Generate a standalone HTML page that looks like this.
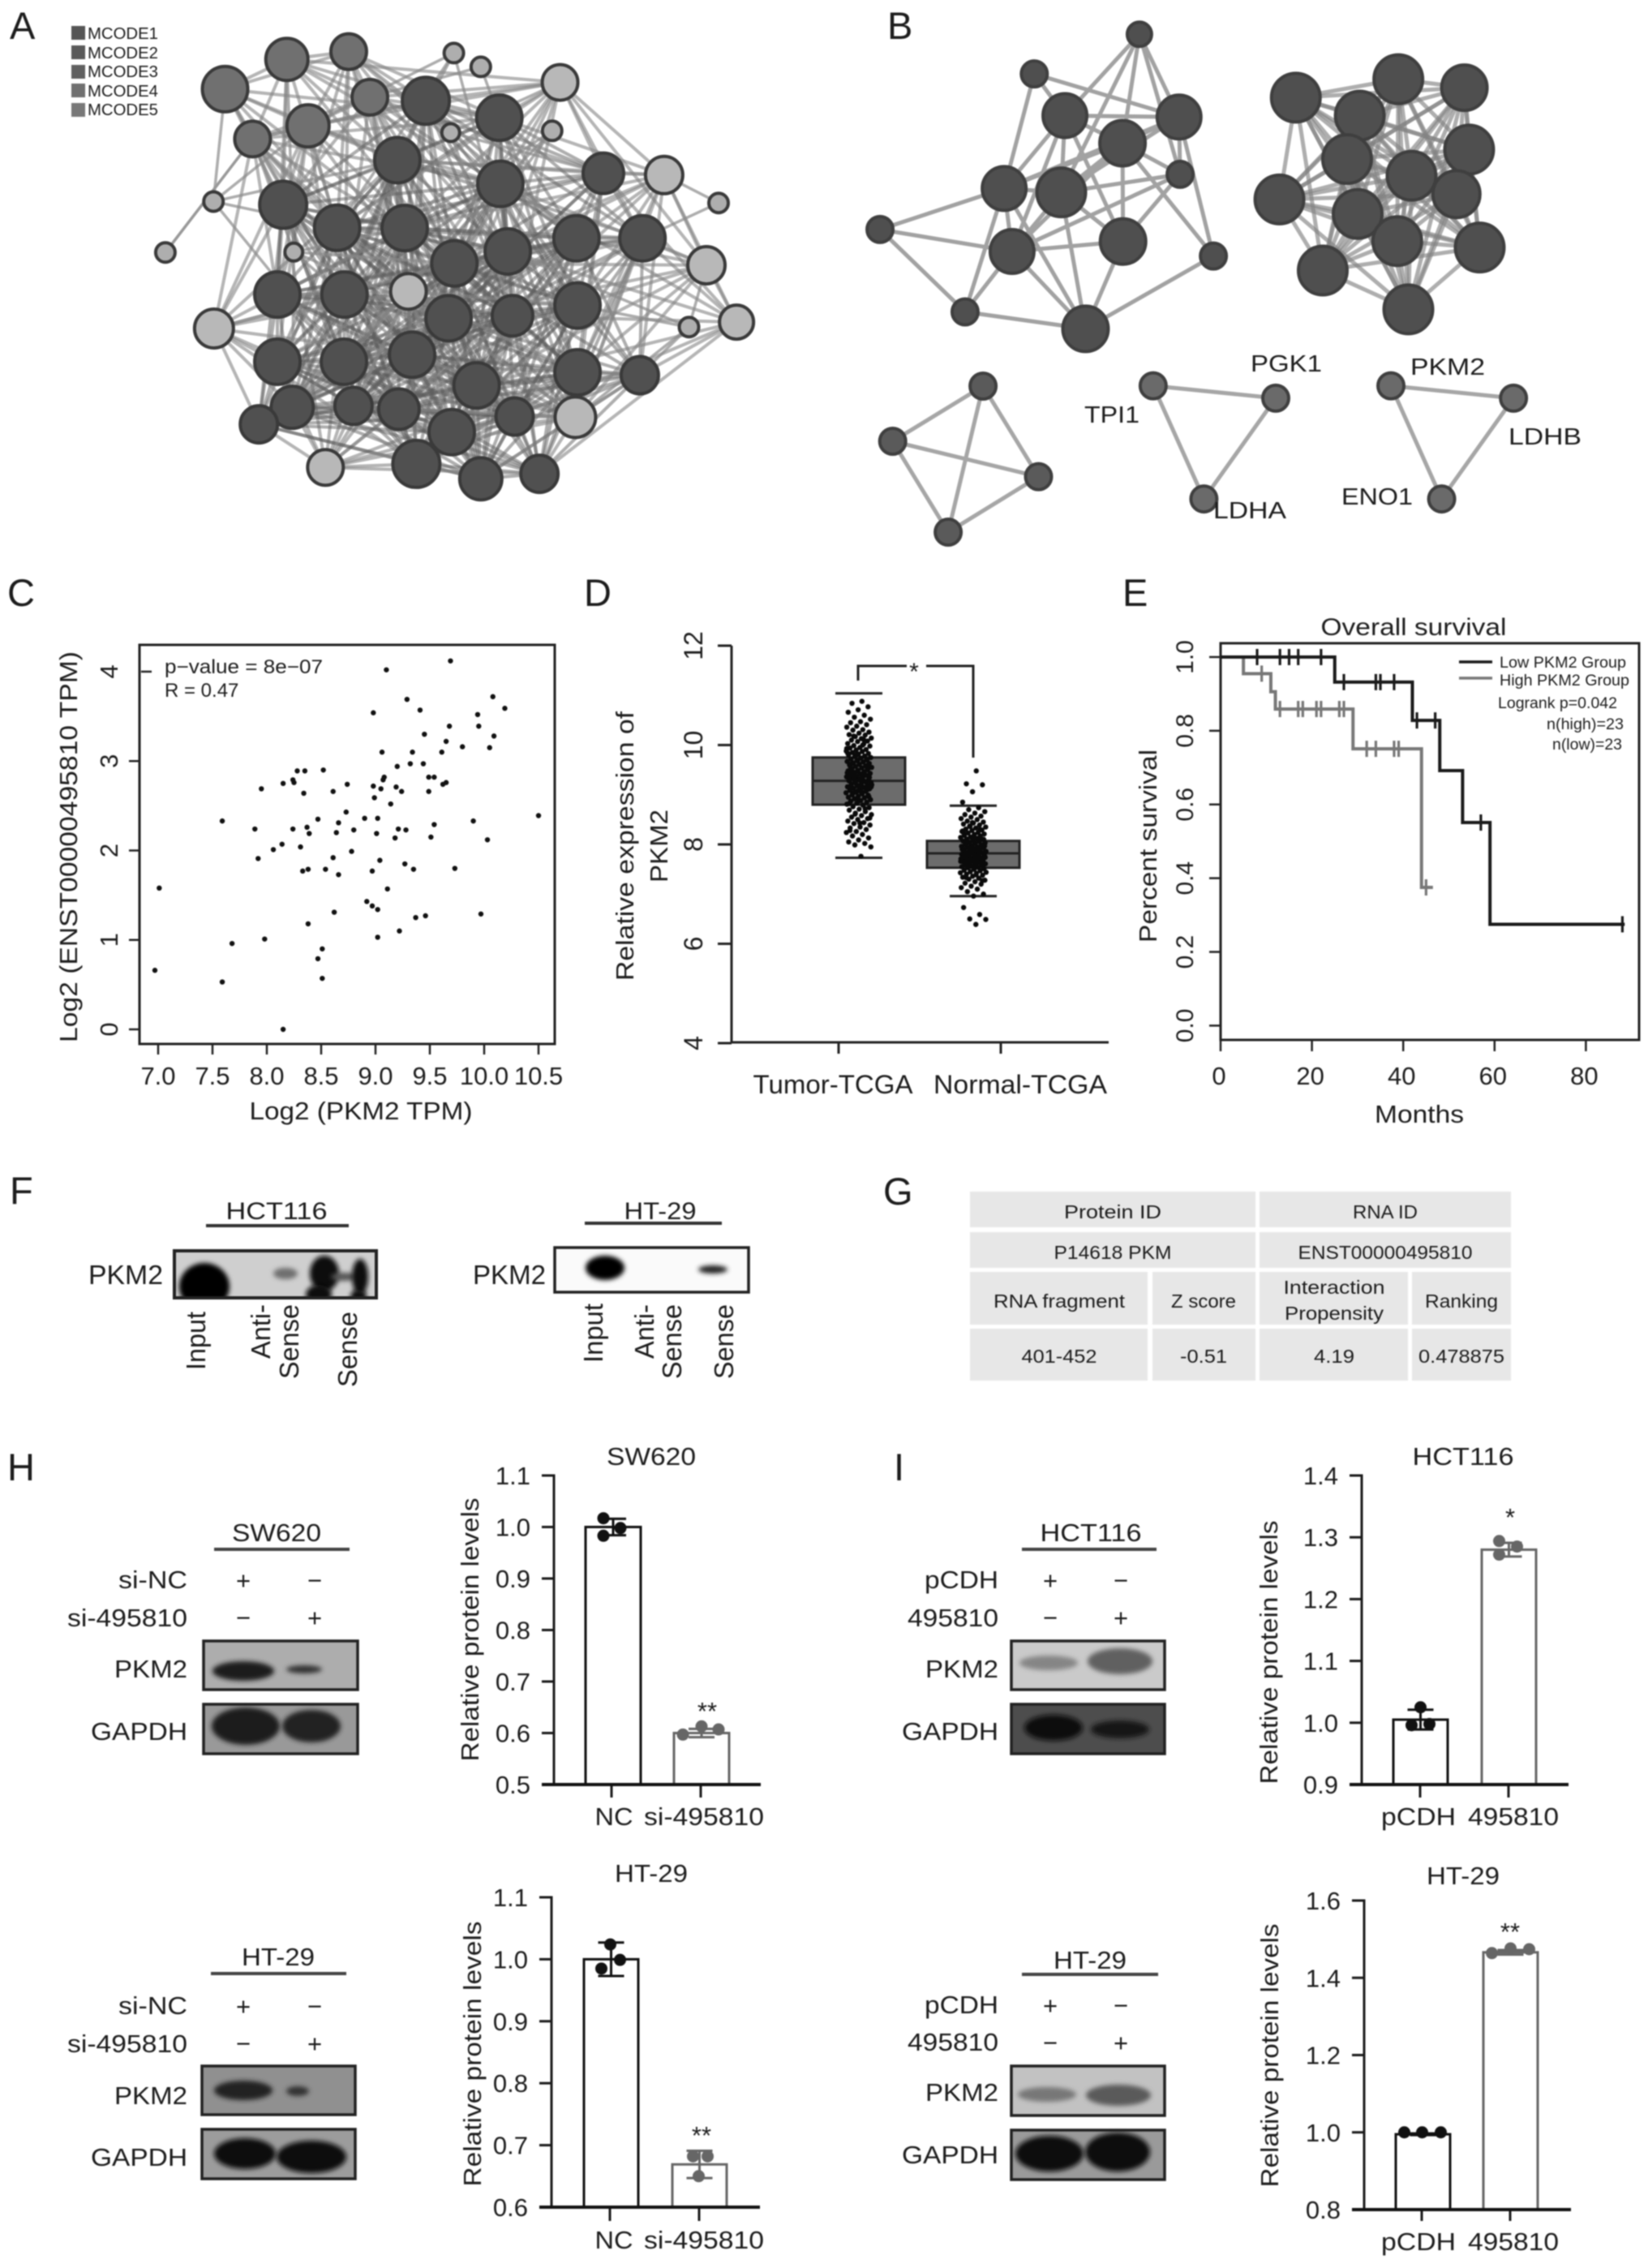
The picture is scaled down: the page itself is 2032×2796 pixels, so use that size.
<!DOCTYPE html>
<html lang="en">
<head>
<meta charset="utf-8">
<title>PKM2 multi-panel figure</title>
<style>
html,body{margin:0;padding:0;background:#fff;width:2032px;height:2796px;overflow:hidden}
svg{display:block;filter:blur(0.9px)}
text{font-family:"Liberation Sans",sans-serif;fill:#1c1c1c}
</style>
</head>
<body>
<svg id="figure" xmlns="http://www.w3.org/2000/svg" width="2032" height="2796" viewBox="0 0 2032 2796">
<defs>
<filter id="b3" x="-40%" y="-60%" width="180%" height="220%"><feGaussianBlur stdDeviation="3"/></filter>
<filter id="b5" x="-40%" y="-60%" width="180%" height="220%"><feGaussianBlur stdDeviation="5"/></filter>
<clipPath id="clip-f1"><rect x="215" y="1542" width="249" height="58"/></clipPath>
<clipPath id="clip-f2"><rect x="684" y="1538" width="239" height="55"/></clipPath>
</defs>
<rect width="2032" height="2796" fill="#fff"/>

<!-- panel letters -->
<g font-size="47">
<text x="12" y="48">A</text>
<text x="1094" y="48">B</text>
<text x="9" y="747">C</text>
<text x="720" y="747">D</text>
<text x="1384" y="747">E</text>
<text x="12" y="1484">F</text>
<text x="1089" y="1485">G</text>
<text x="9" y="1825">H</text>
<text x="1102" y="1825">I</text>
</g>

<!-- A legend -->
<g font-size="20">
<rect x="88" y="32" width="17" height="17" fill="#555"/>
<text x="108" y="48" fill="#555" textLength="87" lengthAdjust="spacingAndGlyphs">MCODE1</text>
<rect x="88" y="56" width="17" height="17" fill="#5a5a5a"/>
<text x="108" y="72" fill="#555" textLength="87" lengthAdjust="spacingAndGlyphs">MCODE2</text>
<rect x="88" y="80" width="17" height="17" fill="#606060"/>
<text x="108" y="95" fill="#555" textLength="87" lengthAdjust="spacingAndGlyphs">MCODE3</text>
<rect x="88" y="103" width="17" height="17" fill="#707070"/>
<text x="108" y="119" fill="#555" textLength="87" lengthAdjust="spacingAndGlyphs">MCODE4</text>
<rect x="88" y="127" width="17" height="17" fill="#787878"/>
<text x="108" y="142" fill="#555" textLength="87" lengthAdjust="spacingAndGlyphs">MCODE5</text>
</g>
<g id="network-a"></g>
<g id="network-b"></g>

<!-- B gene labels -->
<g font-size="29" fill="#333">
<text x="1586" y="458" text-anchor="middle" textLength="88" lengthAdjust="spacingAndGlyphs">PGK1</text>
<text x="1371" y="521" text-anchor="middle" textLength="68" lengthAdjust="spacingAndGlyphs">TPI1</text>
<text x="1541" y="639" text-anchor="middle" textLength="90" lengthAdjust="spacingAndGlyphs">LDHA</text>
<text x="1785" y="462" text-anchor="middle" textLength="92" lengthAdjust="spacingAndGlyphs">PKM2</text>
<text x="1905" y="548" text-anchor="middle" textLength="90" lengthAdjust="spacingAndGlyphs">LDHB</text>
<text x="1698" y="622" text-anchor="middle" textLength="88" lengthAdjust="spacingAndGlyphs">ENO1</text>
</g>

<!-- C scatter -->
<g id="chart-c">
<rect x="172" y="795" width="512" height="492" fill="none" stroke="#222" stroke-width="3"/>
<text x="445" y="1380" font-size="31" text-anchor="middle" textLength="275" lengthAdjust="spacingAndGlyphs">Log2 (PKM2 TPM)</text>
<text transform="translate(95,1044) rotate(-90)" font-size="31" text-anchor="middle" textLength="482" lengthAdjust="spacingAndGlyphs">Log2 (ENST00000495810 TPM)</text>
<text x="203" y="830" font-size="24" fill="#444" textLength="195" lengthAdjust="spacingAndGlyphs">p−value = 8e−07</text>
<text x="203" y="859" font-size="24" fill="#444">R = 0.47</text>
</g>

<!-- D boxplot -->
<g id="chart-d">
<text transform="translate(781,1043) rotate(-90)" font-size="31" text-anchor="middle" textLength="332" lengthAdjust="spacingAndGlyphs">Relative expression of</text>
<text transform="translate(823,1043) rotate(-90)" font-size="31" text-anchor="middle" textLength="90" lengthAdjust="spacingAndGlyphs">PKM2</text>
<text x="1127" y="838" font-size="30" text-anchor="middle">*</text>
</g>

<!-- E survival -->
<g id="chart-e">
<rect x="1505" y="793" width="516" height="489" fill="none" stroke="#222" stroke-width="3"/>
<text x="1743" y="783" font-size="30" text-anchor="middle" textLength="229" lengthAdjust="spacingAndGlyphs">Overall survival</text>
<text x="1750" y="1384" font-size="31" text-anchor="middle" textLength="110" lengthAdjust="spacingAndGlyphs">Months</text>
<text transform="translate(1426,1043) rotate(-90)" font-size="31" text-anchor="middle" textLength="238" lengthAdjust="spacingAndGlyphs">Percent survival</text>
<line x1="1799" y1="816" x2="1840" y2="816" stroke="#1a1a1a" stroke-width="3.5"/>
<line x1="1799" y1="836" x2="1840" y2="836" stroke="#777" stroke-width="3.5"/>
<g font-size="19" fill="#444">
<text x="1849" y="823" textLength="156" lengthAdjust="spacingAndGlyphs">Low PKM2 Group</text>
<text x="1849" y="845" textLength="160" lengthAdjust="spacingAndGlyphs">High PKM2 Group</text>
<text x="1847" y="873" textLength="147" lengthAdjust="spacingAndGlyphs">Logrank p=0.042</text>
<text x="1907" y="899" textLength="95" lengthAdjust="spacingAndGlyphs">n(high)=23</text>
<text x="1914" y="924" textLength="86" lengthAdjust="spacingAndGlyphs">n(low)=23</text>
</g>
</g>

<!-- F blots -->
<g font-size="33">
<text x="341" y="1503" font-size="30" text-anchor="middle" textLength="125" lengthAdjust="spacingAndGlyphs">HCT116</text>
<line x1="254" y1="1511" x2="430" y2="1511" stroke="#333" stroke-width="4"/>
<text x="109" y="1583" textLength="92" lengthAdjust="spacingAndGlyphs">PKM2</text>
<g>
<g clip-path="url(#clip-f1)">
<rect x="215" y="1542" width="249" height="58" fill="#cfcfcf"/>
<ellipse cx="252" cy="1586" rx="31" ry="29" fill="#000" filter="url(#b3)"/>
<ellipse cx="352" cy="1570" rx="15" ry="7" fill="#6e6e6e" filter="url(#b3)"/>
<ellipse cx="400" cy="1570" rx="18" ry="22" fill="#0a0a0a" filter="url(#b3)"/>
<ellipse cx="393" cy="1596" rx="16" ry="12" fill="#111" filter="url(#b3)"/>
<ellipse cx="424" cy="1574" rx="16" ry="5" fill="#555" filter="url(#b3)"/>
<ellipse cx="444" cy="1574" rx="10" ry="22" fill="#0a0a0a" filter="url(#b3)"/>
<ellipse cx="442" cy="1598" rx="10" ry="8" fill="#111" filter="url(#b3)"/>
</g>
<rect x="215" y="1542" width="249" height="58" fill="none" stroke="#222" stroke-width="4"/>
</g>
<text transform="translate(253,1689) rotate(-90)" textLength="72" lengthAdjust="spacingAndGlyphs">Input</text>
<text transform="translate(333,1675) rotate(-90)" textLength="67" lengthAdjust="spacingAndGlyphs">Anti-</text>
<text transform="translate(368,1700) rotate(-90)" textLength="92" lengthAdjust="spacingAndGlyphs">Sense</text>
<text transform="translate(440,1710) rotate(-90)" textLength="93" lengthAdjust="spacingAndGlyphs">Sense</text>

<text x="814" y="1503" font-size="30" text-anchor="middle" textLength="89" lengthAdjust="spacingAndGlyphs">HT-29</text>
<line x1="721" y1="1508" x2="890" y2="1508" stroke="#333" stroke-width="4"/>
<text x="583" y="1583" textLength="90" lengthAdjust="spacingAndGlyphs">PKM2</text>
<g>
<g clip-path="url(#clip-f2)">
<rect x="684" y="1538" width="239" height="55" fill="#fafafa"/>
<ellipse cx="746" cy="1563" rx="24" ry="15" fill="#000" filter="url(#b3)"/>
<ellipse cx="879" cy="1565" rx="18" ry="5" fill="#222" filter="url(#b3)"/>
</g>
<rect x="684" y="1538" width="239" height="55" fill="none" stroke="#222" stroke-width="3.5"/>
</g>
<text transform="translate(743,1680) rotate(-90)" textLength="73" lengthAdjust="spacingAndGlyphs">Input</text>
<text transform="translate(806,1675) rotate(-90)" textLength="67" lengthAdjust="spacingAndGlyphs">Anti-</text>
<text transform="translate(840,1700) rotate(-90)" textLength="92" lengthAdjust="spacingAndGlyphs">Sense</text>
<text transform="translate(904,1700) rotate(-90)" textLength="92" lengthAdjust="spacingAndGlyphs">Sense</text>
</g>

<!-- G table -->
<g font-size="23" text-anchor="middle" fill="#333">
<g fill="#e7e7e7">
<rect x="1196" y="1469" width="352" height="44" fill="#e7e7e7"/>
<rect x="1553" y="1469" width="310" height="44" fill="#e7e7e7"/>
<rect x="1196" y="1519" width="352" height="44" fill="#e7e7e7"/>
<rect x="1553" y="1519" width="310" height="44" fill="#e7e7e7"/>
<rect x="1196" y="1568" width="219" height="65" fill="#e7e7e7"/>
<rect x="1421" y="1568" width="127" height="65" fill="#e7e7e7"/>
<rect x="1553" y="1568" width="183" height="65" fill="#e7e7e7"/>
<rect x="1741" y="1568" width="122" height="65" fill="#e7e7e7"/>
<rect x="1196" y="1638" width="219" height="64" fill="#e7e7e7"/>
<rect x="1421" y="1638" width="127" height="64" fill="#e7e7e7"/>
<rect x="1553" y="1638" width="183" height="64" fill="#e7e7e7"/>
<rect x="1741" y="1638" width="122" height="64" fill="#e7e7e7"/>
</g>
<text x="1372" y="1502" text-anchor="middle" textLength="120" lengthAdjust="spacingAndGlyphs">Protein  ID</text>
<text x="1708" y="1502" text-anchor="middle" textLength="80" lengthAdjust="spacingAndGlyphs">RNA ID</text>
<text x="1372" y="1552" text-anchor="middle" textLength="145" lengthAdjust="spacingAndGlyphs">P14618 PKM</text>
<text x="1708" y="1552" text-anchor="middle" textLength="215" lengthAdjust="spacingAndGlyphs">ENST00000495810</text>
<text x="1306" y="1612" text-anchor="middle" textLength="162" lengthAdjust="spacingAndGlyphs">RNA fragment</text>
<text x="1484" y="1612" text-anchor="middle" textLength="80" lengthAdjust="spacingAndGlyphs">Z score</text>
<text x="1645" y="1595" text-anchor="middle" textLength="125" lengthAdjust="spacingAndGlyphs">Interaction</text>
<text x="1645" y="1627" text-anchor="middle" textLength="122" lengthAdjust="spacingAndGlyphs">Propensity</text>
<text x="1802" y="1612" text-anchor="middle" textLength="90" lengthAdjust="spacingAndGlyphs">Ranking</text>
<text x="1306" y="1680" text-anchor="middle" textLength="93" lengthAdjust="spacingAndGlyphs">401-452</text>
<text x="1484" y="1680" text-anchor="middle" textLength="58" lengthAdjust="spacingAndGlyphs">-0.51</text>
<text x="1645" y="1680" text-anchor="middle" textLength="50" lengthAdjust="spacingAndGlyphs">4.19</text>
<text x="1802" y="1680" text-anchor="middle" textLength="106" lengthAdjust="spacingAndGlyphs">0.478875</text>
</g>

<!-- H blots -->
<g font-size="31">
<text x="341" y="1900" text-anchor="middle" textLength="110" lengthAdjust="spacingAndGlyphs">SW620</text>
<line x1="264" y1="1910" x2="431" y2="1910" stroke="#444" stroke-width="4"/>
<text x="231" y="1958" text-anchor="end" textLength="85" lengthAdjust="spacingAndGlyphs">si-NC</text>
<text x="231" y="2005" text-anchor="end" textLength="148" lengthAdjust="spacingAndGlyphs">si-495810</text>
<text x="300" y="1959" text-anchor="middle">+</text>
<text x="388" y="1959" text-anchor="middle">−</text>
<text x="300" y="2005" text-anchor="middle">−</text>
<text x="388" y="2005" text-anchor="middle">+</text>
<text x="231" y="2068" text-anchor="end" textLength="90" lengthAdjust="spacingAndGlyphs">PKM2</text>
<text x="231" y="2145" text-anchor="end" textLength="119" lengthAdjust="spacingAndGlyphs">GAPDH</text>
<g>
<rect x="251" y="2023" width="190" height="60" fill="#adadad"/>
<ellipse cx="300" cy="2060" rx="38" ry="12" fill="#1c1c1c" filter="url(#b3)"/>
<ellipse cx="375" cy="2058" rx="22" ry="5" fill="#333" filter="url(#b3)"/>
<rect x="251" y="2023" width="190" height="60" fill="none" stroke="#222" stroke-width="3.5"/>
</g>
<g>
<rect x="251" y="2101" width="190" height="61" fill="#999"/>
<ellipse cx="303" cy="2128" rx="42" ry="23" fill="#1a1a1a" filter="url(#b3)"/>
<ellipse cx="384" cy="2128" rx="36" ry="20" fill="#222" filter="url(#b3)"/>
<rect x="251" y="2101" width="190" height="61" fill="none" stroke="#222" stroke-width="3.5"/>
</g>

<text x="343" y="2423" text-anchor="middle" textLength="90" lengthAdjust="spacingAndGlyphs">HT-29</text>
<line x1="260" y1="2433" x2="427" y2="2433" stroke="#444" stroke-width="4"/>
<text x="231" y="2483" text-anchor="end" textLength="85" lengthAdjust="spacingAndGlyphs">si-NC</text>
<text x="231" y="2530" text-anchor="end" textLength="148" lengthAdjust="spacingAndGlyphs">si-495810</text>
<text x="300" y="2484" text-anchor="middle">+</text>
<text x="388" y="2484" text-anchor="middle">−</text>
<text x="300" y="2530" text-anchor="middle">−</text>
<text x="388" y="2530" text-anchor="middle">+</text>
<text x="231" y="2594" text-anchor="end" textLength="90" lengthAdjust="spacingAndGlyphs">PKM2</text>
<text x="231" y="2670" text-anchor="end" textLength="119" lengthAdjust="spacingAndGlyphs">GAPDH</text>
<g>
<rect x="249" y="2547" width="189" height="60" fill="#909090"/>
<ellipse cx="300" cy="2577" rx="36" ry="12" fill="#222" filter="url(#b3)"/>
<ellipse cx="367" cy="2578" rx="14" ry="6" fill="#333" filter="url(#b3)"/>
<rect x="249" y="2547" width="189" height="60" fill="none" stroke="#222" stroke-width="3.5"/>
</g>
<g>
<rect x="249" y="2625" width="189" height="61" fill="#9c9c9c"/>
<ellipse cx="302" cy="2655" rx="38" ry="19" fill="#111" filter="url(#b3)"/>
<ellipse cx="384" cy="2659" rx="43" ry="20" fill="#111" filter="url(#b3)"/>
<rect x="249" y="2625" width="189" height="61" fill="none" stroke="#222" stroke-width="3.5"/>
</g>
</g>

<!-- I blots -->
<g font-size="31">
<text x="1345" y="1900" text-anchor="middle" textLength="125" lengthAdjust="spacingAndGlyphs">HCT116</text>
<line x1="1260" y1="1910" x2="1426" y2="1910" stroke="#444" stroke-width="4"/>
<text x="1231" y="1958" text-anchor="end" textLength="91" lengthAdjust="spacingAndGlyphs">pCDH</text>
<text x="1231" y="2005" text-anchor="end" textLength="112" lengthAdjust="spacingAndGlyphs">495810</text>
<text x="1295" y="1959" text-anchor="middle">+</text>
<text x="1382" y="1959" text-anchor="middle">−</text>
<text x="1295" y="2005" text-anchor="middle">−</text>
<text x="1382" y="2005" text-anchor="middle">+</text>
<text x="1231" y="2068" text-anchor="end" textLength="90" lengthAdjust="spacingAndGlyphs">PKM2</text>
<text x="1231" y="2145" text-anchor="end" textLength="119" lengthAdjust="spacingAndGlyphs">GAPDH</text>
<g>
<rect x="1247" y="2023" width="189" height="60" fill="#cacaca"/>
<ellipse cx="1293" cy="2050" rx="36" ry="9" fill="#858585" filter="url(#b3)"/>
<ellipse cx="1381" cy="2048" rx="40" ry="16" fill="#606060" filter="url(#b3)"/>
<rect x="1247" y="2023" width="189" height="60" fill="none" stroke="#222" stroke-width="3.5"/>
</g>
<g>
<rect x="1247" y="2101" width="189" height="61" fill="#4d4d4d"/>
<ellipse cx="1299" cy="2130" rx="36" ry="16" fill="#111" filter="url(#b3)"/>
<ellipse cx="1381" cy="2132" rx="36" ry="11" fill="#181818" filter="url(#b3)"/>
<rect x="1247" y="2101" width="189" height="61" fill="none" stroke="#222" stroke-width="3.5"/>
</g>

<text x="1344" y="2427" text-anchor="middle" textLength="90" lengthAdjust="spacingAndGlyphs">HT-29</text>
<line x1="1260" y1="2434" x2="1428" y2="2434" stroke="#444" stroke-width="4"/>
<text x="1231" y="2482" text-anchor="end" textLength="91" lengthAdjust="spacingAndGlyphs">pCDH</text>
<text x="1231" y="2528" text-anchor="end" textLength="112" lengthAdjust="spacingAndGlyphs">495810</text>
<text x="1295" y="2483" text-anchor="middle">+</text>
<text x="1382" y="2483" text-anchor="middle">−</text>
<text x="1295" y="2529" text-anchor="middle">−</text>
<text x="1382" y="2529" text-anchor="middle">+</text>
<text x="1231" y="2590" text-anchor="end" textLength="90" lengthAdjust="spacingAndGlyphs">PKM2</text>
<text x="1231" y="2667" text-anchor="end" textLength="119" lengthAdjust="spacingAndGlyphs">GAPDH</text>
<g>
<rect x="1247" y="2547" width="189" height="61" fill="#c2c2c2"/>
<ellipse cx="1291" cy="2582" rx="36" ry="9" fill="#777" filter="url(#b3)"/>
<ellipse cx="1379" cy="2583" rx="40" ry="13" fill="#5a5a5a" filter="url(#b3)"/>
<rect x="1247" y="2547" width="189" height="61" fill="none" stroke="#222" stroke-width="3.5"/>
</g>
<g>
<rect x="1247" y="2626" width="189" height="61" fill="#9a9a9a"/>
<ellipse cx="1294" cy="2655" rx="42" ry="22" fill="#111" filter="url(#b3)"/>
<ellipse cx="1378" cy="2653" rx="40" ry="24" fill="#111" filter="url(#b3)"/>
<rect x="1247" y="2626" width="189" height="61" fill="none" stroke="#222" stroke-width="3.5"/>
</g>
</g>

<!-- bar chart titles -->
<g font-size="31">
<text x="803" y="1806" text-anchor="middle" textLength="110" lengthAdjust="spacingAndGlyphs">SW620</text>
<text transform="translate(590,2009) rotate(-90)" text-anchor="middle" textLength="325" lengthAdjust="spacingAndGlyphs">Relative protein levels</text>
<text x="872" y="2120" text-anchor="middle">**</text>
<text x="803" y="2320" text-anchor="middle" textLength="90" lengthAdjust="spacingAndGlyphs">HT-29</text>
<text transform="translate(593,2532) rotate(-90)" text-anchor="middle" textLength="327" lengthAdjust="spacingAndGlyphs">Relative protein levels</text>
<text x="865" y="2643" text-anchor="middle">**</text>
<text x="1804" y="1806" text-anchor="middle" textLength="125" lengthAdjust="spacingAndGlyphs">HCT116</text>
<text transform="translate(1575,2037) rotate(-90)" text-anchor="middle" textLength="325" lengthAdjust="spacingAndGlyphs">Relative protein levels</text>
<text x="1862" y="1881" text-anchor="middle">*</text>
<text x="1804" y="2323" text-anchor="middle" textLength="90" lengthAdjust="spacingAndGlyphs">HT-29</text>
<text transform="translate(1576,2534) rotate(-90)" text-anchor="middle" textLength="325" lengthAdjust="spacingAndGlyphs">Relative protein levels</text>
<text x="1862" y="2392" text-anchor="middle">**</text>
</g>
<g id="bar-charts"></g>
</svg>

<script>
/* ---------- C: scatter data ---------- */
const scatterTicksX = [7, 7.5, 8, 8.5, 9, 9.5, 10, 10.5];
const scatterTickLabelsX = ['7.0', '7.5', '8.0', '8.5', '9.0', '9.5', '10.0', '10.5'];
const scatterTicksY = [0, 1, 2, 3, 4];
const scatterX = [6.97,7.01,7.59,7.59,7.68,7.89,7.92,7.95,7.98,8.06,8.14,8.15,8.15,8.24,8.25,8.24,8.28,8.35,8.34,8.31,8.33,8.38,8.37,8.39,8.47,8.38,8.47,8.51,8.51,8.52,8.54,8.61,8.61,8.62,8.64,8.66,8.66,8.73,8.74,8.78,8.80,8.90,8.92,8.97,8.97,8.98,8.98,8.99,9.02,9.01,9.02,9.02,9.04,9.05,9.06,9.07,9.08,9.10,9.11,9.14,9.18,9.19,9.20,9.21,9.22,9.24,9.27,9.28,9.29,9.32,9.34,9.35,9.37,9.41,9.44,9.45,9.46,9.49,9.49,9.51,9.54,9.54,9.61,9.62,9.65,9.65,9.68,9.69,9.73,9.80,9.90,9.94,9.95,9.97,10.03,10.05,10.08,10.09,10.19,10.50];
const scatterY = [0.66,1.58,0.53,2.33,0.96,2.24,1.91,2.69,1.01,2.01,2.07,2.75,0,2.79,2.76,2.24,2.89,2.89,2.64,2.04,1.77,1.79,2.26,2.19,2.35,1.18,0.79,0.90,0.57,2.90,1.79,2.66,1.92,1.31,2.20,1.73,2.31,2.43,2.74,1.99,2.23,2.36,1.43,1.38,1.77,3.54,2.72,2.59,2.36,2.19,1.34,1.03,1.89,2.69,3.10,2.79,2.82,4.02,1.57,2.52,2.14,2.71,2.94,2.24,1.10,2.66,1.85,2.23,3.69,2.97,3.10,1.79,1.25,3.57,2.97,3.30,1.27,2.82,2.66,2.15,2.82,2.29,3.10,2.74,2.76,3.22,3.39,4.12,1.80,3.16,2.33,3.52,3.39,1.29,2.12,3.15,3.72,3.28,3.59,2.39];

/* ---------- D: boxplot data ---------- */
const boxTicks = [4, 6, 8, 10, 12];
const boxCategories = ['Tumor-TCGA', 'Normal-TCGA'];
const tumorBox = [7.73, 8.80, 9.28, 9.75, 11.04];
const normalBox = [6.96, 7.53, 7.82, 8.07, 8.78];
const tumorPoints = [10.88,10.84,10.77,10.71,10.66,10.6,10.56,10.52,10.47,10.45,10.41,10.38,10.36,10.31,10.3,10.26,10.24,10.21,10.2,10.17,10.14,10.13,10.1,10.08,10.07,10.03,10.02,9.99,9.98,9.95,9.94,9.91,9.9,9.88,9.87,9.85,9.83,9.82,9.8,9.78,9.77,9.75,9.74,9.72,9.7,9.69,9.67,9.66,9.64,9.63,9.61,9.6,9.58,9.57,9.55,9.54,9.52,9.51,9.49,9.48,9.46,9.45,9.43,9.42,9.4,9.39,9.37,9.36,9.34,9.33,9.31,9.3,9.28,9.27,9.25,9.24,9.22,9.21,9.19,9.18,9.16,9.15,9.13,9.12,9.1,9.09,9.07,9.05,9.04,9.02,9.0,8.99,8.97,8.95,8.94,8.92,8.9,8.88,8.87,8.85,8.83,8.81,8.79,8.76,8.74,8.71,8.69,8.66,8.63,8.6,8.58,8.55,8.52,8.5,8.47,8.44,8.42,8.39,8.35,8.33,8.3,8.26,8.24,8.2,8.17,8.13,8.09,8.05,8.02,7.99,7.95,7.76,9.62,9.5,9.47,9.44,9.41,9.38,9.35,9.32,9.29,9.26,9.23,9.2,9.17,9.14,9.11,9.08,9.35,9.27,9.33,9.22,9.3,9.56,9.7,9.81,9.93,10.0,9.03,8.96,8.89,8.82,8.72,8.61,9.16,9.06,9.45,9.59,9.68,9.84,10.11,10.18,8.53,8.43,8.28];
const normalPoints = [9.48,9.22,9.2,9.06,8.85,8.74,8.7,8.66,8.63,8.6,8.57,8.55,8.52,8.5,8.47,8.45,8.43,8.41,8.39,8.37,8.35,8.33,8.31,8.29,8.28,8.26,8.24,8.23,8.21,8.2,8.18,8.17,8.15,8.14,8.12,8.11,8.1,8.08,8.07,8.06,8.04,8.03,8.02,8.0,7.99,7.98,7.96,7.95,7.94,7.93,7.91,7.9,7.89,7.88,7.86,7.85,7.84,7.83,7.82,7.8,7.79,7.78,7.77,7.76,7.74,7.73,7.72,7.71,7.7,7.68,7.67,7.66,7.65,7.64,7.62,7.61,7.6,7.59,7.58,7.56,7.55,7.54,7.53,7.51,7.5,7.48,7.47,7.45,7.43,7.42,7.4,7.38,7.36,7.34,7.32,7.3,7.28,7.25,7.22,7.2,7.16,7.13,7.1,7.05,7.0,6.96,6.73,6.59,6.5,6.49,6.39,8.02,7.98,7.94,7.9,7.87,7.84,7.81,7.78,7.75,7.72,7.69,7.66,7.63,7.6,7.57,7.93,7.89,7.83,7.79,7.74,7.7,7.65,7.62,7.85,7.8,7.76,7.68,8.1,8.16,8.22,8.3,8.36,7.44,7.39,7.33,7.27,8.44,8.27,8.13,8.05,7.97];

/* ---------- E: survival data ---------- */
const survivalTicksX = [0, 20, 40, 60, 80];
const survivalTicksY = [0, 0.2, 0.4, 0.6, 0.8, 1];
const survivalTickLabelsY = ['0.0', '0.2', '0.4', '0.6', '0.8', '1.0'];
const lowTimes = [0, 25, 42, 48, 53, 59, 88.5];
const lowSurvival = [1, 0.932, 0.828, 0.692, 0.551, 0.275, 0.275];
const lowCensored = [8, 13, 15, 17, 22, 27, 34, 35, 38, 43, 47, 57, 88];
const highTimes = [0, 5, 11, 12, 29, 44, 46.5];
const highSurvival = [1, 0.955, 0.906, 0.859, 0.751, 0.375, 0.375];
const highCensored = [9, 13, 17, 18, 21, 22, 26, 27, 32, 34, 38, 39, 45];

/* ---------- H / I: bar chart data ---------- */
const h1Ticks = [0.5, 0.6, 0.7, 0.8, 0.9, 1.0, 1.1];
const h1Categories = ['NC', 'si-495810'];
const h1Values = [1.0, 0.60];
const h1Errors = [0.016, 0.008];
const h1Replicates = [[1.017, 0.983, 0.998], [0.597, 0.613, 0.607]];

const h2Ticks = [0.6, 0.7, 0.8, 0.9, 1.0, 1.1];
const h2Categories = ['NC', 'si-495810'];
const h2Values = [1.0, 0.669];
const h2Errors = [0.027, 0.022];
const h2Replicates = [[1.024, 0.985, 0.999], [0.682, 0.682, 0.650]];

const i1Ticks = [0.9, 1.0, 1.1, 1.2, 1.3, 1.4];
const i1Categories = ['pCDH', '495810'];
const i1Values = [1.005, 1.28];
const i1Errors = [0.016, 0.011];
const i1Replicates = [[1.025, 0.996, 0.998], [1.294, 1.272, 1.285]];

const i2Ticks = [0.8, 1.0, 1.2, 1.4, 1.6];
const i2Categories = ['pCDH', '495810'];
const i2Values = [0.995, 1.466];
const i2Errors = [0.002, 0.006];
const i2Replicates = [[1.0, 1.0, 1.0], [1.464, 1.476, 1.474]];

/* ---------- network layouts (measured node centre x, y and radius) ---------- */
const networkADark = [[806,285,29],[945,333,28],[752,453,28],[947,520,28],[1142,490,25],[536,579,29],[638,644,28],[766,645,28],[1091,674,28],[1216,674,28],[961,711,28],[860,745,28],[525,833,28],[652,833,28],[1093,864,28],[849,900,28],[970,893,25],[525,1023,28],[651,1023,28],[780,1003,28],[1093,1053,28],[902,1090,28],[1211,1061,23],[553,1152,26],[669,1148,23],[755,1157,25],[490,1200,23],[855,1222,28],[974,1178,23],[788,1312,29],[910,1354,26],[1021,1340,23]];
const networkAMid = [[426,252,28],[543,168,26],[660,146,22],[700,275,22],[583,356,26],[478,393,22]];
const networkALight = [[1060,233,22],[1257,495,23],[1337,750,23],[1394,911,21],[405,929,24],[773,824,22],[1089,1180,25],[616,1322,22]];
const networkASmall = [[859,150,12],[910,189,12],[853,375,11],[1045,370,12],[404,570,12],[1360,574,12],[313,714,12],[556,713,11],[1304,925,12]];

const networkB1 = [[597,97,15],[398,209,16],[456,327,27],[672,331,27],[565,405,28],[341,533,27],[449,544,30],[674,493,16],[106,649,16],[356,711,27],[566,683,28],[737,724,16],[267,882,16],[495,930,28]];
const networkB1Edges = [[0,2],[0,3],[0,4],[0,6],[0,7],[1,2],[1,3],[1,5],[2,3],[2,4],[2,6],[2,5],[2,9],[2,10],[3,4],[3,7],[3,5],[3,11],[3,6],[4,5],[4,6],[4,7],[4,9],[4,10],[4,11],[5,6],[5,9],[5,12],[5,8],[5,13],[6,7],[6,9],[6,10],[6,13],[7,9],[7,10],[9,10],[9,8],[9,12],[9,13],[8,12],[10,13],[12,13],[11,13]];
const networkB2 = [[893,276,30],[1087,224,30],[1212,248,28],[1014,327,30],[1221,423,30],[990,450,30],[1112,497,30],[1197,549,29],[862,564,30],[1010,605,30],[1085,682,30],[1241,700,30],[944,765,30],[1106,875,30]];
const networkB3 = [[301,1092,16],[130,1248,16],[406,1348,16],[235,1505,16]];
const networkB4 = [[623,1091,16],[855,1126,16],[719,1411,16]];
const networkB5 = [[1073,1091,16],[1305,1126,16],[1169,1411,16]];

const SVGNS = 'http://www.w3.org/2000/svg';
function mk(parent, tag, attrs, name) {
  const el = document.createElementNS(SVGNS, tag);
  for (const k in attrs) el.setAttribute(k, attrs[k]);
  
  
  parent.appendChild(el);
  return el;
}
function label(parent, str, attrs, name) {
  const el = mk(parent, 'text', attrs, name);
  el.textContent = str;
  return el;
}

/* ---------- networks ---------- */
function drawNetworkA() {
  const g = document.getElementById('network-a');
  const px = n => [n[0] / 1.535, n[1] / 2.294, n[2]];
  const mid = networkAMid.map(px), dark = networkADark.map(px), light = networkALight.map(px), small = networkASmall.map(px);
  const big = mid.concat(dark, light);
  for (let i = 0; i < big.length; i++) {
    for (let j = i + 1; j < big.length; j++) {
      const d = Math.hypot(big[i][0] - big[j][0], big[i][1] - big[j][1]);
      const central = i >= 6 && i < 38 && j < 38;
      if (d < 340 && (i * 7 + j * 11) % (central ? 6 : 3) !== 0) {
        mk(g, 'line', {x1: big[i][0], y1: big[i][1], x2: big[j][0], y2: big[j][1], stroke: central ? '#5e5e5e' : '#848484', 'stroke-width': 4, 'stroke-opacity': central ? 0.5 : 0.6}, 'network-edge');
      }
    }
  }
  small.forEach((s, si) => {
    big.forEach((b, bi) => {
      const d = Math.hypot(s[0] - b[0], s[1] - b[1]);
      if (d < 260 && (si + bi) % 4 === 0 && si !== 6) {
        mk(g, 'line', {x1: s[0], y1: s[1], x2: b[0], y2: b[1], stroke: '#8a8a8a', 'stroke-width': 3.5, 'stroke-opacity': 0.7}, 'network-edge');
      }
    });
  });
  mk(g, 'line', {x1: small[6][0], y1: small[6][1], x2: mid[5][0], y2: mid[5][1], stroke: '#999', 'stroke-width': 3.5}, 'network-edge');
  const styles = [[dark, '#505050', 'dark-node'], [mid, '#707070', 'mid-node'], [light, '#b8b8b8', 'light-node'], [small, '#aeaeae', 'small-node']];
  styles.forEach(([list, fill, nm]) => {
    list.forEach(n => {
      mk(g, 'circle', {cx: n[0], cy: n[1], r: n[2], fill: fill, stroke: '#3a3a3a', 'stroke-width': 4}, nm);
    });
  });
}
function drawNetworkB() {
  const g = document.getElementById('network-b');
  const px = n => [n[0] / 1.535 + 1016, n[1] / 2.294, n[2]];
  const edge = (a, b, w, c) => mk(g, 'line', {x1: a[0], y1: a[1], x2: b[0], y2: b[1], stroke: c, 'stroke-width': w}, 'network-edge');
  const complete = (list, w, c) => {
    for (let i = 0; i < list.length; i++) for (let j = i + 1; j < list.length; j++) edge(list[i], list[j], w, c);
  };
  const c1 = networkB1.map(px), c2 = networkB2.map(px), c3 = networkB3.map(px), c4 = networkB4.map(px), c5 = networkB5.map(px);
  networkB1Edges.forEach(e => edge(c1[e[0]], c1[e[1]], 5, '#a2a2a2'));
  for (let i = 0; i < c2.length; i++) for (let j = i + 1; j < c2.length; j++) {
    if (Math.hypot(c2[i][0] - c2[j][0], c2[i][1] - c2[j][1]) < 330) edge(c2[i], c2[j], 5, 'rgba(130,130,130,.65)');
  }
  complete(c3, 5, '#a6a6a6');
  complete(c4, 5, '#a6a6a6');
  complete(c5, 5, '#a6a6a6');
  [[c1, '#4f4f4f'], [c2, '#4f4f4f'], [c3, '#5a5a5a'], [c4, '#6a6a6a'], [c5, '#6a6a6a']].forEach(([list, fill]) => {
    list.forEach(n => {
      mk(g, 'circle', {cx: n[0], cy: n[1], r: n[2], fill: fill, stroke: '#3f3f3f', 'stroke-width': 4}, 'network-node');
    });
  });
}

/* ---------- C ---------- */
function drawScatter() {
  const g = document.getElementById('chart-c');
  const xScale = v => 195 + (v - 7) * 134;
  const yScale = v => 1269 - v * 110.25;
  scatterTicksX.forEach((t, i) => {
    mk(g, 'line', {x1: xScale(t), y1: 1287, x2: xScale(t), y2: 1300, stroke: '#222', 'stroke-width': 2.5}, 'scatter-x-tick');
    label(g, scatterTickLabelsX[i], {x: xScale(t), y: 1337, 'font-size': 31, 'text-anchor': 'middle'}, 'scatter-x-tick-label');
  });
  scatterTicksY.forEach(t => {
    const inward = t === 4;
    mk(g, 'line', {x1: inward ? 174 : 159, y1: yScale(t), x2: inward ? 187 : 172, y2: yScale(t), stroke: '#222', 'stroke-width': 2.5}, 'scatter-y-tick');
    label(g, String(t), {transform: 'translate(145,' + yScale(t) + ') rotate(-90)', 'font-size': 31, 'text-anchor': 'middle'}, 'scatter-y-tick-label');
  });
  scatterX.forEach((x, i) => {
    mk(g, 'circle', {cx: xScale(x), cy: yScale(scatterY[i]), r: 3.2, fill: '#111'}, 'scatter-point');
  });
}

/* ---------- D ---------- */
function drawBoxplot() {
  const g = document.getElementById('chart-d');
  const yScale = v => 1286 - (v - 4) * 61.25;
  const centers = [1059, 1200], tickX = [1034, 1234], labelX = [1027, 1258], labelW = [197, 214];
  mk(g, 'line', {x1: 902, y1: 796, x2: 902, y2: 1286, stroke: '#222', 'stroke-width': 3}, 'boxplot-y-axis');
  mk(g, 'line', {x1: 902, y1: 1285, x2: 1367, y2: 1285, stroke: '#222', 'stroke-width': 3}, 'boxplot-x-axis');
  boxTicks.forEach(t => {
    mk(g, 'line', {x1: 885, y1: yScale(t), x2: 902, y2: yScale(t), stroke: '#222', 'stroke-width': 3}, 'boxplot-y-tick');
    label(g, String(t), {transform: 'translate(866,' + yScale(t) + ') rotate(-90)', 'font-size': 32, 'text-anchor': 'middle'}, 'boxplot-y-tick-label');
  });
  boxCategories.forEach((c, i) => {
    mk(g, 'line', {x1: tickX[i], y1: 1285, x2: tickX[i], y2: 1299, stroke: '#222', 'stroke-width': 3}, 'boxplot-x-tick');
    label(g, c, {x: labelX[i], y: 1348, 'font-size': 32, 'text-anchor': 'middle', textLength: labelW[i], lengthAdjust: 'spacingAndGlyphs'}, 'boxplot-x-tick-label');
  });
  const drawBox = (stats, pts, cx, nm) => {
    const hw = 57, capw = 29;
    mk(g, 'line', {x1: cx - capw, y1: yScale(stats[4]), x2: cx + capw, y2: yScale(stats[4]), stroke: '#222', 'stroke-width': 3}, nm + '-whisker-cap-high');
    mk(g, 'line', {x1: cx - capw, y1: yScale(stats[0]), x2: cx + capw, y2: yScale(stats[0]), stroke: '#222', 'stroke-width': 3}, nm + '-whisker-cap-low');
    mk(g, 'rect', {x: cx - hw, y: yScale(stats[3]), width: hw * 2, height: yScale(stats[1]) - yScale(stats[3]), fill: '#6c6c6c', stroke: '#222', 'stroke-width': 3}, nm + '-box');
    mk(g, 'line', {x1: cx - hw, y1: yScale(stats[2]), x2: cx + hw, y2: yScale(stats[2]), stroke: '#222', 'stroke-width': 3}, nm + '-median');
    pts.forEach((v, i) => {
      const jit = (((i + 1) * 0.618034) % 1 - 0.5) * 32;
      mk(g, 'circle', {cx: cx + jit, cy: yScale(v), r: 3.2, fill: '#0a0a0a'}, nm + '-point');
    });
  };
  drawBox(tumorBox, tumorPoints, centers[0], 'tumor');
  drawBox(normalBox, normalPoints, centers[1], 'normal');
  mk(g, 'path', {d: 'M1058 839 V821 H1118 M1142 821 H1200 V934', fill: 'none', stroke: '#222', 'stroke-width': 3}, 'significance-bracket');
}

/* ---------- E ---------- */
function drawSurvival() {
  const g = document.getElementById('chart-e');
  const xScale = m => 1505 + m * 5.63;
  const yScale = s => 1264.4 - s * 454.4;
  survivalTicksX.forEach(t => {
    mk(g, 'line', {x1: xScale(t), y1: 1282, x2: xScale(t), y2: 1296, stroke: '#222', 'stroke-width': 2.5}, 'survival-x-tick');
    label(g, String(t), {x: xScale(t) - 2, y: 1337, 'font-size': 31, 'text-anchor': 'middle'}, 'survival-x-tick-label');
  });
  survivalTicksY.forEach((t, i) => {
    mk(g, 'line', {x1: 1491, y1: yScale(t), x2: 1505, y2: yScale(t), stroke: '#222', 'stroke-width': 2.5}, 'survival-y-tick');
    label(g, survivalTickLabelsY[i], {transform: 'translate(1471,' + yScale(t) + ') rotate(-90)', 'font-size': 30, 'text-anchor': 'middle'}, 'survival-y-tick-label');
  });
  const stepAt = (times, surv, t) => {
    let v = surv[0];
    times.forEach((tt, i) => { if (tt <= t) v = surv[i]; });
    return v;
  };
  const drawCurve = (times, surv, cens, color, nm) => {
    let d = 'M' + xScale(times[0]) + ' ' + yScale(surv[0]);
    for (let i = 1; i < times.length; i++) {
      d += ' H' + xScale(times[i]) + ' V' + yScale(surv[i]);
    }
    mk(g, 'path', {d: d, fill: 'none', stroke: color, 'stroke-width': 4}, nm + '-curve');
    cens.forEach(t => {
      const y = yScale(stepAt(times, surv, t));
      mk(g, 'line', {x1: xScale(t), y1: y - 10, x2: xScale(t), y2: y + 10, stroke: color, 'stroke-width': 3.2}, nm + '-censor-mark');
    });
  };
  drawCurve(highTimes, highSurvival, highCensored, '#777', 'high-pkm2');
  drawCurve(lowTimes, lowSurvival, lowCensored, '#1a1a1a', 'low-pkm2');
}

/* ---------- H / I ---------- */
function drawBars(prefix, cfg, ticks, cats, values, errors, reps) {
  const root = document.getElementById('bar-charts');
  const g = mk(root, 'g', {}, prefix + '-bar-chart');
  const lo = ticks[0], hi = ticks[ticks.length - 1];
  const yScale = v => cfg.y0 - (v - lo) / (hi - lo) * (cfg.y0 - cfg.y1);
  mk(g, 'line', {x1: cfg.axisX, y1: cfg.y1 - 1.5, x2: cfg.axisX, y2: cfg.y0, stroke: '#1a1a1a', 'stroke-width': 3}, prefix + '-y-axis');
  ticks.forEach(t => {
    mk(g, 'line', {x1: cfg.axisX - 15, y1: yScale(t), x2: cfg.axisX, y2: yScale(t), stroke: '#1a1a1a', 'stroke-width': 3}, prefix + '-y-tick');
    label(g, t.toFixed(1), {x: cfg.axisX - 29, y: yScale(t) + 11, 'font-size': 31, 'text-anchor': 'end'}, prefix + '-y-tick-label');
  });
  const colors = ['#111', '#666'];
  values.forEach((v, i) => {
    const x = cfg.barX[i], w = cfg.barW, cx = x + w / 2;
    mk(g, 'rect', {x: x, y: yScale(v), width: w, height: cfg.y0 - yScale(v), fill: '#fff', stroke: colors[i], 'stroke-width': 3}, prefix + '-bar-' + cats[i]);
    const eTop = yScale(v + errors[i]), eBot = yScale(v - errors[i]);
    mk(g, 'path', {d: 'M' + (cx - 16) + ' ' + eTop + ' H' + (cx + 16) + ' M' + cx + ' ' + eTop + ' V' + eBot + ' M' + (cx - 16) + ' ' + eBot + ' H' + (cx + 16), fill: 'none', stroke: colors[i], 'stroke-width': 3}, prefix + '-error-bar');
    reps[i].forEach((r, j) => {
      mk(g, 'circle', {cx: cx + cfg.dotDx[i][j], cy: yScale(r), r: 7.5, fill: i === 0 ? '#111' : '#666'}, prefix + '-replicate-point');
    });
    mk(g, 'line', {x1: cfg.tickX[i], y1: cfg.y0, x2: cfg.tickX[i], y2: cfg.tickBottom, stroke: '#1a1a1a', 'stroke-width': 3}, prefix + '-x-tick');
    label(g, cats[i], {x: cfg.labelX[i], y: cfg.labelY, 'font-size': 31, 'text-anchor': 'middle', textLength: cfg.labelW[i], lengthAdjust: 'spacingAndGlyphs'}, prefix + '-x-tick-label');
  });
  mk(g, 'line', {x1: cfg.axisX - 15, y1: cfg.y0, x2: cfg.axisEnd, y2: cfg.y0, stroke: '#111', 'stroke-width': 4}, prefix + '-x-axis');
}

drawNetworkA();
drawNetworkB();
drawScatter();
drawBoxplot();
drawSurvival();
drawBars('h1', {axisX: 683, axisEnd: 938, y0: 2200, y1: 1819, barX: [722, 831], barW: 68, dotDx: [[-12, -12, 9], [-23, 0, 21]], tickX: [754, 864], tickBottom: 2216, labelX: [757, 868], labelW: [47, 148], labelY: 2250}, h1Ticks, h1Categories, h1Values, h1Errors, h1Replicates);
drawBars('h2', {axisX: 680, axisEnd: 937, y0: 2721, y1: 2339, barX: [720, 829], barW: 67, dotDx: [[-1, -12, 11], [-8, 10, -1]], tickX: [752, 862], tickBottom: 2738, labelX: [757, 868], labelW: [47, 148], labelY: 2772}, h2Ticks, h2Categories, h2Values, h2Errors, h2Replicates);
drawBars('i1', {axisX: 1679, axisEnd: 1934, y0: 2200, y1: 1819, barX: [1718, 1827], barW: 67, dotDx: [[0, -11, 11], [-12, -12, 10]], tickX: [1751, 1860], tickBottom: 2216, labelX: [1749, 1866], labelW: [92, 112], labelY: 2250}, i1Ticks, i1Categories, i1Values, i1Errors, i1Replicates);
drawBars('i2', {axisX: 1682, axisEnd: 1937, y0: 2724, y1: 2343, barX: [1721, 1829], barW: 67, dotDx: [[-23, -1, 22], [-23, 0, 23]], tickX: [1753, 1862], tickBottom: 2738, labelX: [1749, 1866], labelW: [92, 112], labelY: 2774}, i2Ticks, i2Categories, i2Values, i2Errors, i2Replicates);
</script>
</body>
</html>
